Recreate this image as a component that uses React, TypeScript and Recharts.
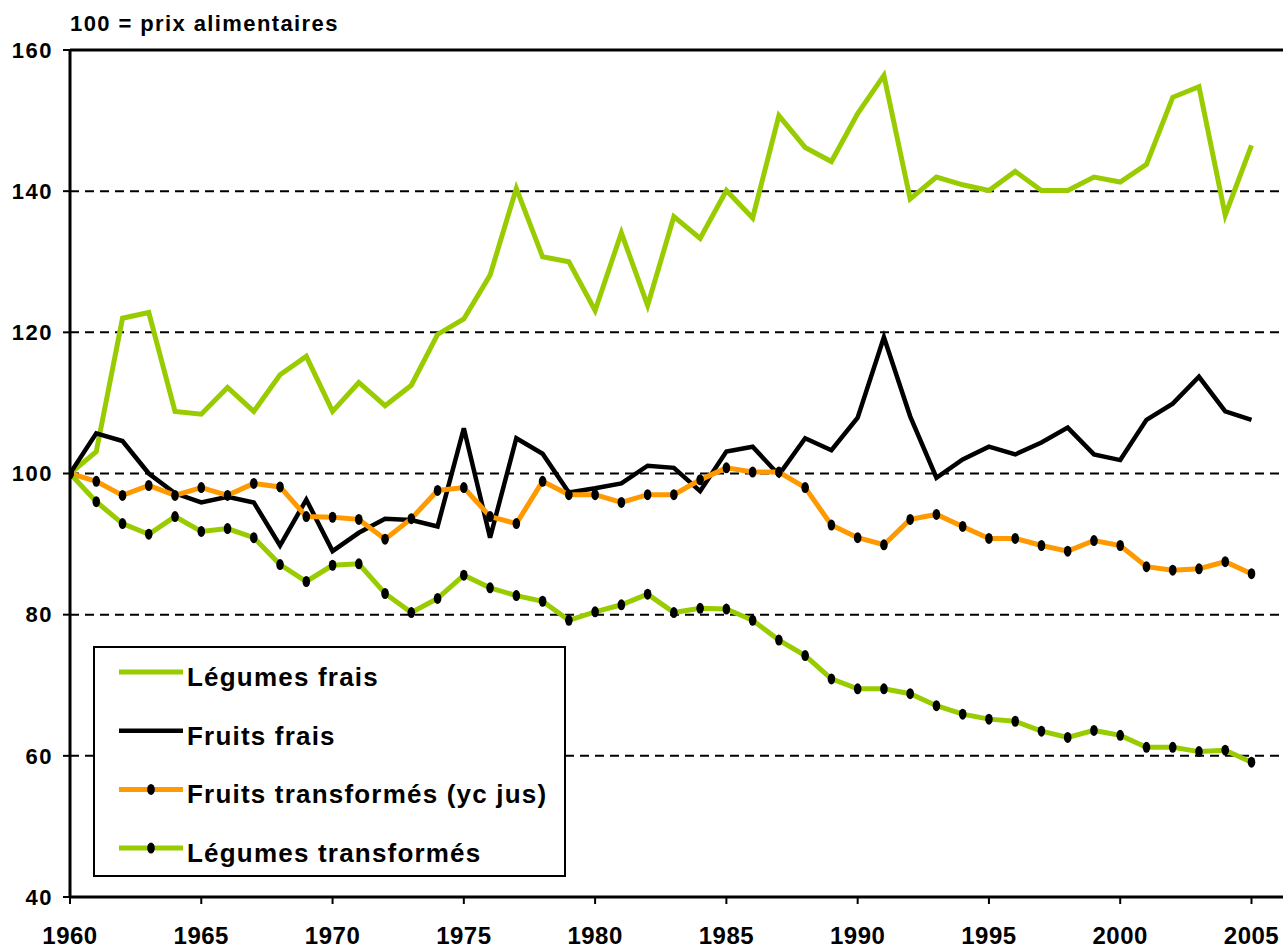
import { LineChart, Line, XAxis, YAxis, ReferenceLine } from 'recharts';

const years = [
  1960, 1961, 1962, 1963, 1964, 1965, 1966, 1967, 1968, 1969,
  1970, 1971, 1972, 1973, 1974, 1975, 1976, 1977, 1978, 1979,
  1980, 1981, 1982, 1983, 1984, 1985, 1986, 1987, 1988, 1989,
  1990, 1991, 1992, 1993, 1994, 1995, 1996, 1997, 1998, 1999,
  2000, 2001, 2002, 2003, 2004, 2005,
];

const legumesFrais = [
  100, 103.1, 122.0, 122.8, 108.8, 108.4, 112.2, 108.8, 114.0, 116.6,
  108.8, 112.9, 109.6, 112.5, 119.7, 121.9, 128.1, 140.4, 130.7, 130.0,
  123.1, 134.1, 123.8, 136.4, 133.3, 140.1, 136.2, 150.7, 146.2, 144.2,
  151.0, 156.4, 138.9, 142.0, 140.9, 140.1, 142.8, 140.1, 140.1, 142.0,
  141.3, 143.8, 153.3, 154.8, 136.6, 146.5,
];

const fruitsFrais = [
  100, 105.7, 104.6, 100.0, 97.2, 95.9, 96.7, 95.9, 89.8, 96.3,
  89.0, 91.6, 93.6, 93.4, 92.5, 106.4, 90.9, 105.0, 102.8, 97.3,
  97.9, 98.6, 101.1, 100.8, 97.5, 103.1, 103.8, 99.8, 105.0, 103.3,
  107.9, 119.3, 108.1, 99.4, 102.0, 103.8, 102.7, 104.4, 106.5, 102.7,
  101.9, 107.6, 109.9, 113.7, 108.8, 107.6,
];

const fruitsTransformes = [
  100, 98.9, 96.9, 98.3, 96.9, 98.0, 96.9, 98.6, 98.1, 93.9,
  93.8, 93.5, 90.7, 93.6, 97.6, 98.0, 93.9, 92.9, 98.9, 97.0,
  97.0, 95.9, 97.0, 97.0, 99.1, 100.8, 100.2, 100.2, 98.0, 92.7,
  90.9, 89.9, 93.5, 94.2, 92.5, 90.8, 90.8, 89.8, 89.0, 90.5,
  89.8, 86.8, 86.3, 86.5, 87.5, 85.8,
];

const legumesTransformes = [
  100, 96.0, 92.9, 91.4, 93.9, 91.8, 92.2, 90.9, 87.1, 84.7,
  87.0, 87.2, 83.0, 80.3, 82.3, 85.6, 83.8, 82.7, 81.9, 79.2,
  80.4, 81.4, 82.9, 80.3, 80.9, 80.8, 79.2, 76.4, 74.2, 70.9,
  69.5, 69.5, 68.8, 67.1, 65.9, 65.2, 64.9, 63.5, 62.6, 63.6,
  62.9, 61.2, 61.2, 60.6, 60.8, 59.1,
];

const xTicks = [1960, 1965, 1970, 1975, 1980, 1985, 1990, 1995, 2000, 2005];
const yTicks = [40, 60, 80, 100, 120, 140, 160];
const gridValues = [60, 80, 100, 120, 140];

const series = [
  { key: 'legumesFrais', name: 'Légumes frais', color: '#99CC00', width: 5, markers: false },
  { key: 'fruitsFrais', name: 'Fruits frais', color: '#000000', width: 4.5, markers: false },
  { key: 'fruitsTransformes', name: 'Fruits transformés (yc jus)', color: '#FF9900', width: 5, markers: true },
  { key: 'legumesTransformes', name: 'Légumes transformés', color: '#99CC00', width: 5, markers: true },
];

const data = years.map((year, i) => ({
  year,
  legumesFrais: legumesFrais[i],
  fruitsFrais: fruitsFrais[i],
  fruitsTransformes: fruitsTransformes[i],
  legumesTransformes: legumesTransformes[i],
}));

const FONT = '"Liberation Sans", Arial, sans-serif';

const renderDot = (props: any) => (
  <ellipse key={`dot-${props.dataKey}-${props.index}`} cx={props.cx} cy={props.cy} rx={3.8} ry={5.5} fill="#000" />
);

function ChartLegend() {
  return (
    <div
      style={{
        position: 'absolute',
        left: 93,
        top: 646,
        width: 473,
        height: 231,
        boxSizing: 'border-box',
        border: '2px solid #000',
        background: '#fff',
      }}
    >
      <svg width={469} height={227}>
        {series.map((s, i) => {
          const y = 24 + i * 58.7;
          return (
            <g key={s.key}>
              <line x1={24} x2={88} y1={y} y2={y} stroke={s.color} strokeWidth={s.width} />
              {s.markers && <ellipse cx={56} cy={y} rx={3.8} ry={5.5} fill="#000" />}
              <text
                x={92}
                y={y + 14}
                fontFamily={FONT}
                fontWeight={700}
                fontSize={26}
                letterSpacing={1.2}
                fill="#000"
              >
                {s.name}
              </text>
            </g>
          );
        })}
      </svg>
    </div>
  );
}

export default function App() {
  return (
    <div style={{ position: 'absolute', left: 0, top: 0, width: 1283, height: 949, background: '#fff', fontFamily: FONT }}>
      <div
        style={{
          position: 'absolute',
          left: 70,
          top: 11,
          fontSize: 22,
          fontWeight: 700,
          letterSpacing: 1.4,
          color: '#000',
          lineHeight: '26px',
        }}
      >
        100 = prix alimentaires
      </div>
      <LineChart width={1283} height={949} data={data} margin={{ top: 50, right: 0, bottom: 0, left: 0 }}>
        {gridValues.map((v) => (
          <ReferenceLine key={v} y={v} stroke="#000" strokeWidth={2} strokeDasharray="9 6" />
        ))}
        <ReferenceLine y={160} stroke="#000" strokeWidth={3} />
        <XAxis
          type="number"
          dataKey="year"
          domain={[1960, 2006.2]}
          ticks={xTicks}
          allowDataOverflow
          height={52}
          tickSize={7}
          tickMargin={23}
          axisLine={{ stroke: '#000', strokeWidth: 3 }}
          tickLine={{ stroke: '#000', strokeWidth: 2 }}
          tick={{ fill: '#000', fontSize: 24, fontWeight: 700, fontFamily: FONT, letterSpacing: 0.5 }}
        />
        <YAxis
          type="number"
          domain={[40, 160]}
          ticks={yTicks}
          width={70}
          tickSize={7}
          tickMargin={10}
          axisLine={{ stroke: '#000', strokeWidth: 3 }}
          tickLine={{ stroke: '#000', strokeWidth: 2 }}
          tick={{ fill: '#000', fontSize: 22, fontWeight: 700, fontFamily: FONT, letterSpacing: 1.5 }}
        />
        {series.map((s) => (
          <Line
            key={s.key}
            type="linear"
            dataKey={s.key}
            name={s.name}
            stroke={s.color}
            strokeWidth={s.width}
            dot={s.markers ? renderDot : false}
            activeDot={false}
            isAnimationActive={false}
          />
        ))}
      </LineChart>
      <ChartLegend />
    </div>
  );
}
